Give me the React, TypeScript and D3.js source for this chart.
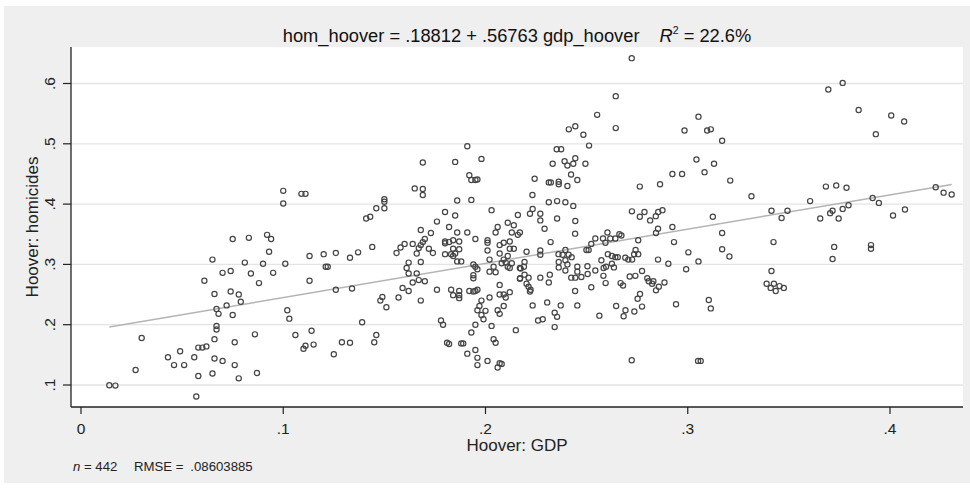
import React from 'react';
import * as d3 from 'd3';

// Hoover index of GDP (x) and of homicides (y)
const gdpHoover: number[] = [
  .100, .075, .083, .092, .094, .093, .065, .081, .090, .101, .113, .070, .074, .084, .095, .061, .088, .113,
  .066, .074, .078, .079, .072, .067, .068, .075, .102, .103, .067, .067, .066, .030, .086, .076, .106, .114,
  .111, .110, .115, .058, .060, .062, .049, .043, .056, .046, .051, .066, .070, .076, .027, .065, .058, .078,
  .087, .014, .017, .057,
  .100, .109, .111,
  .191, .169, .185, .198, .192, .193, .195, .196, .165, .169, .169, .186, .193, .150, .150, .146, .150,
  .180, .185, .203, .216, .141, .143, .176, .182, .168, .173, .186, .191, .211, .214, .206, .205, .213, .195,
  .201, .201, .170, .169, .168, .167, .166, .172, .174, .160, .164, .158, .156, .144, .137, .133, .126, .120,
  .121, .122, .162, .168, .161, .162, .166, .164, .167, .170, .159, .162, .157, .168, .176, .149, .148, .151,
  .126, .134, .139, .129, .133, .125, .146, .145, .178, .179, .181, .182, .188, .189, .191, .195, .196, .196,
  .201, .207, .208, .206, .193, .195, .203, .204, .205, .215, .183, .184, .187, .187, .187, .192, .194, .195,
  .196, .198, .197, .200, .196, .198, .199, .202, .207, .207, .209, .210, .212, .209, .206, .207, .194, .195,
  .196, .194, .194, .186, .188, .180, .182, .184, .187, .180, .180, .183, .184, .185, .187, .184, .201, .202,
  .204, .202, .205, .207, .209, .212, .207, .211, .212, .214, .209, .210, .208, .211, .212, .213, .217, .217,
  .216, .217,
];

const gdpHooverUpper: number[] = [
  .2723, .2644, .2552, .2644, .2412, .2444, .2484, .2512, .2352, .2374, .2444, .2391, .2405, .2434, .2332,
  .2494, .2423, .2454, .2243, .2313, .2323, .2362, .2362, .2405, .2232, .2313, .2354, .2395, .2434, .2233,
  .222, .2271, .2271, .2354, .2444, .2763, .2863, .2924, .2972, .3043, .3083, .2984, .3053, .2724, .2763,
  .2786, .2814, .2842, .2854, .2875,
  .2292, .2443, .2322, .2203, .2271, .2271, .2361, .2381, .2395, .2411, .2426, .2362, .2395, .2362, .2405,
  .2193, .2190, .2174, .2171, .2193, .2213, .2203, .2213, .2223, .2220, .2271, .2318, .2313, .2395, .2424,
  .2454, .2454, .2444, .2474, .2504, .2505, .2443, .2523, .2543, .2573, .2584, .2596, .2583, .2594, .2625,
  .2635, .2605, .2625, .2642, .2654, .2499, .2510, .2523, .2543, .2581, .2603, .2593, .2617, .2642, .2662,
  .2672, .2755, .2691, .2706, .2725, .2742, .2735, .2755, .2713, .2741, .2774, .2668, .2680, .2646, .2563,
  .2692, .2683, .2736, .2774, .2752, .2764, .2800, .2807, .2824, .2830, .2843, .2857, .2885, .2853, .2904,
  .2843, .2853, .2924, .2932, .3003, .3053, .2992, .2942, .2723, .3051, .3064, .2233, .2305, .2372, .2454,
  .2342, .2354, .2260, .2283, .2342,
  .3695, .3766, .3845, .4006, .407, .393, .3096, .3114, .317, .313, .321, .3315, .3124, .317, .317, .3206,
  .3414, .3464, .3493, .3424, .3414, .339, .341, .3426, .3435, .3454, .3475, .3104, .3114, .3605, .3683,
  .3734, .3785, .3655, .3704, .3716, .3746, .3766, .3795, .3724, .3716, .3906, .3906, .3914, .3945, .4015,
  .4074, .4226, .4265, .4305,
];

const homHoover: number[] = [
  .401, .342, .344, .349, .342, .321, .308, .303, .301, .301, .314, .286, .289, .285, .286, .273, .269, .273,
  .251, .255, .250, .238, .232, .226, .218, .216, .224, .210, .198, .192, .176, .178, .184, .171, .183, .190,
  .165, .160, .167, .162, .162, .164, .156, .146, .146, .133, .133, .144, .140, .133, .125, .119, .115, .111,
  .120, .0995, .099, .081,
  .422, .417, .417,
  .496, .469, .470, .475, .448, .440, .440, .441, .426, .425, .415, .406, .407, .408, .404, .393, .393,
  .387, .381, .390, .382, .376, .379, .371, .362, .357, .352, .353, .353, .369, .365, .362, .353, .353, .342,
  .340, .336, .342, .337, .332, .327, .318, .326, .319, .334, .334, .328, .319, .329, .320, .311, .319, .317,
  .296, .296, .303, .304, .294, .285, .285, .270, .274, .272, .261, .256, .245, .240, .258, .246, .240, .229,
  .258, .260, .204, .171, .170, .151, .183, .171, .207, .200, .170, .168, .169, .169, .152, .158, .145, .133,
  .140, .136, .135, .129, .187, .200, .198, .176, .170, .191, .258, .249, .256, .249, .244, .256, .255, .256,
  .258, .240, .231, .223, .224, .216, .209, .245, .266, .250, .250, .245, .254, .231, .224, .218, .300, .296,
  .292, .282, .277, .305, .305, .338, .337, .340, .338, .335, .317, .317, .314, .318, .325, .326, .323, .308,
  .296, .288, .287, .332, .336, .338, .318, .314, .326, .326, .308, .303, .302, .296, .294, .302, .294, .276,
  .349, .353,
];

const homHooverUpper: number[] = [
  .642, .579, .548, .526, .524, .529, .515, .497, .491, .491, .476, .471, .464, .467, .467, .467, .449, .440,
  .442, .436, .436, .437, .433, .430, .415, .403, .405, .403, .397, .392, .384, .384, .373, .376, .372, .429,
  .433, .450, .450, .474, .453, .522, .545, .388, .379, .387, .373, .380, .387, .390,
  .359, .351, .337, .321, .323, .316, .317, .316, .324, .316, .312, .304, .307, .295, .300, .304, .296, .293,
  .277, .283, .278, .268, .263, .258, .255, .278, .283, .270, .290, .278, .296, .288, .278, .279, .297, .284,
  .256, .262, .290, .307, .294, .296, .281, .269, .301, .295, .317, .314, .312, .312, .324, .324, .334, .343,
  .343, .353, .336, .343, .343, .350, .348, .340, .311, .308, .308, .324, .317, .317, .280, .281, .289, .269,
  .265, .231, .215, .224, .214, .222, .230, .243, .251, .277, .272, .268, .272, .257, .263, .270, .308, .301,
  .352, .359, .362, .337, .320, .305, .292, .234, .141, .140, .140, .232, .237, .232, .232, .220, .213, .207,
  .209, .196,
  .590, .601, .556, .547, .537, .516, .522, .524, .505, .467, .439, .413, .379, .352, .325, .313, .389, .377,
  .389, .337, .289, .268, .261, .268, .256, .264, .261, .241, .227, .405, .429, .431, .427, .376, .385, .389,
  .376, .392, .398, .329, .309, .332, .326, .410, .402, .381, .391, .428, .419, .416,
];

const xTicks = [0, .1, .2, .3, .4];
const yTicks = [.1, .2, .3, .4, .5, .6];
const intercept = .18812;
const slope = .56763;
const nObs = 442;
const rmse = '.08603885';
const r2 = '22.6%';

const fmt = (v: number) => (v === 0 ? '0' : d3.format('.1f')(v).replace(/^0/, ''));
const coef = (v: number) => String(v).replace(/^0/, '');

const App: React.FC = () => {
  const width = 970;
  const height = 488;
  const plot = { left: 71, right: 963, top: 47, bottom: 407 };

  const x = d3.scaleLinear().domain([0, .4]).range([81, 890]);
  const y = d3.scaleLinear().domain([.1, .6]).range([385, 83.5]);

  const gx = gdpHoover.concat(gdpHooverUpper);
  const hy = homHoover.concat(homHooverUpper);
  const points = gx.map((g, i) => ({ g, h: hy[i] }));

  const [xMin, xMax] = d3.extent(gx) as [number, number];
  const fitLine = d3.line<number>()
    .x(d => x(d))
    .y(d => y(intercept + slope * d));

  const font = '"Liberation Sans", Arial, sans-serif';
  const midX = (plot.left + plot.right) / 2;
  const midY = (plot.top + plot.bottom) / 2;

  return (
    <svg width={width} height={height} style={{ position: 'absolute', left: 0, top: 0 }} fontFamily={font}>
      <rect x={0} y={0} width={width} height={height} fill="#ffffff" />
      <rect x={4} y={6} width={width - 4} height={477} fill="#efefef" />
      <rect x={plot.left} y={plot.top} width={plot.right - plot.left} height={plot.bottom - plot.top} fill="#ffffff" />

      {/* gridlines */}
      {yTicks.map(t => (
        <line key={`g${t}`} x1={plot.left} x2={plot.right} y1={y(t)} y2={y(t)} stroke="#e4e4e4" strokeWidth={1.3} />
      ))}

      {/* fitted line */}
      <path d={fitLine([xMin, xMax]) || ''} fill="none" stroke="#b4b4b4" strokeWidth={1.5} />

      {/* points */}
      {points.map((p, i) => (
        <circle key={i} cx={x(p.g)} cy={y(p.h)} r={2.6} fill="none" stroke="#444" strokeWidth={1.2} />
      ))}

      {/* axes */}
      <line x1={plot.left} x2={plot.left} y1={plot.top} y2={plot.bottom} stroke="#222" strokeWidth={1.3} />
      <line x1={plot.left} x2={plot.right} y1={plot.bottom} y2={plot.bottom} stroke="#222" strokeWidth={1.3} />

      {yTicks.map(t => (
        <g key={`y${t}`}>
          <line x1={63} x2={plot.left} y1={y(t)} y2={y(t)} stroke="#222" strokeWidth={1.2} />
          <text
            transform={`translate(54.5,${y(t)}) rotate(-90)`}
            textAnchor="middle"
            fontSize={15.5}
            fill="#222"
          >
            {fmt(t)}
          </text>
        </g>
      ))}

      {xTicks.map(t => (
        <g key={`x${t}`}>
          <line x1={x(t)} x2={x(t)} y1={plot.bottom} y2={414} stroke="#222" strokeWidth={1.2} />
          <text x={x(t)} y={434} textAnchor="middle" fontSize={15.5} fill="#222">
            {fmt(t)}
          </text>
        </g>
      ))}

      {/* axis titles */}
      <text x={midX} y={451} textAnchor="middle" fontSize={17} fill="#222">Hoover: GDP</text>
      <text transform={`translate(38,${midY}) rotate(-90)`} textAnchor="middle" fontSize={17} fill="#222">
        Hoover: homicides
      </text>

      {/* title */}
      <text x={midX} y={41.5} textAnchor="middle" fontSize={18.3} fill="#111">
        <tspan>{`hom_hoover = ${coef(intercept)} + ${coef(slope)} gdp_hoover`}</tspan>
        <tspan dx={20} fontStyle="italic">R</tspan>
        <tspan dy={-7.5} fontSize={10.5}>2</tspan>
        <tspan dy={7.5}>{` = ${r2}`}</tspan>
      </text>

      {/* note */}
      <text x={73} y={470.5} fontSize={13.2} fill="#222">
        <tspan fontStyle="italic">n</tspan>
        <tspan>{` = ${nObs}`}</tspan>
        <tspan dx={16.5}>RMSE =</tspan>
        <tspan dx={7}>{rmse}</tspan>
      </text>
    </svg>
  );
};

export default App;
